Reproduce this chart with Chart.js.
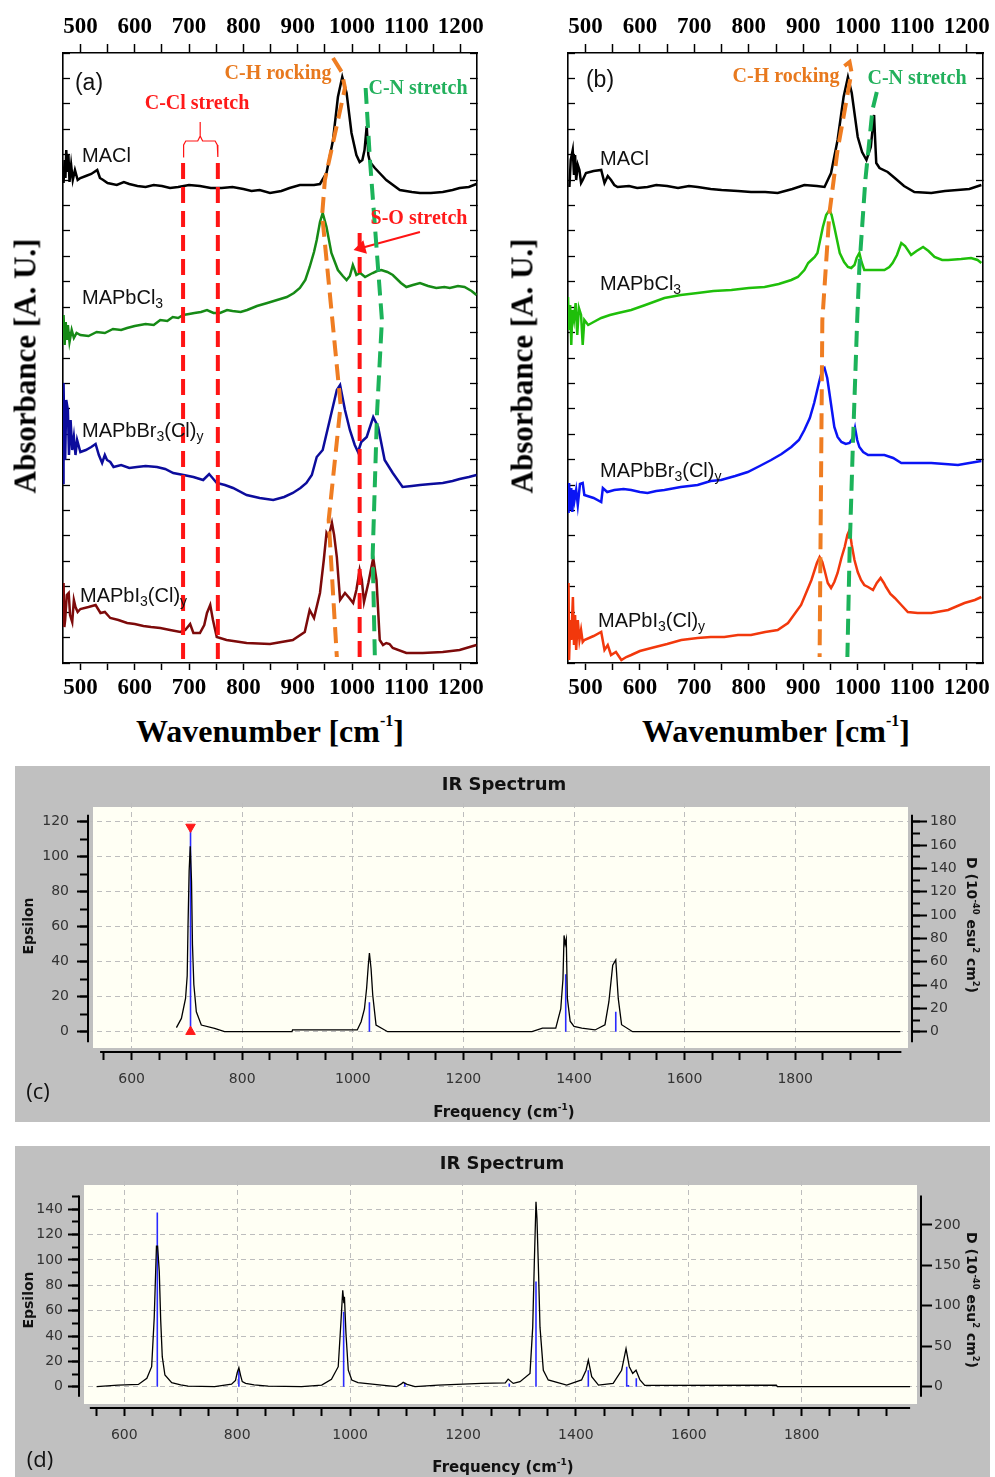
<!DOCTYPE html>
<html><head><meta charset="utf-8">
<script src="https://cdn.jsdelivr.net/npm/chart.js@4.4.1/dist/chart.umd.min.js"></script>
<style>
html,body{margin:0;padding:0;background:#fff}
body{width:995px;height:1477px;position:relative;overflow:hidden}
canvas{position:absolute}
.t{position:absolute;white-space:nowrap;line-height:1;transform:translate(-50%,-50%)}
.lab{font-family:"Liberation Sans",Arial,sans-serif;font-size:20px;color:#111}
.lab sub{font-size:0.7em;vertical-align:-0.3em;line-height:0}
.ann{font-family:"Liberation Serif","Times New Roman",serif;font-weight:bold;font-size:20px}
.ttl{font-family:"Liberation Serif","Times New Roman",serif;font-weight:bold;font-size:32px;color:#000}
.ttl sup{font-size:0.5em;vertical-align:1.0em;line-height:0}
.pl{font-family:"Liberation Sans",Arial,sans-serif;font-size:23px;color:#111}
.ir{font-family:"DejaVu Sans",sans-serif;font-weight:bold;color:#111}
.ir sup{font-size:0.6em;vertical-align:0.7em;line-height:0}
.pc{font-family:"Open Sans","Noto Sans",sans-serif;font-size:22px;color:#111}
</style></head><body>

<canvas id="ca" width="495" height="710" style="left:0;top:0"></canvas>
<canvas id="cb" width="490" height="710" style="left:505px;top:0"></canvas>
<canvas id="cc" width="975" height="356" style="left:15px;top:766px;background:#c0c0c0"></canvas>
<canvas id="cd" width="975" height="331" style="left:15px;top:1146px;background:#c0c0c0"></canvas>

<!-- panel (a) texts -->
<div class="t pl" style="left:89px;top:82px">(a)</div>
<div class="t lab" style="left:82px;top:155px;transform:translateY(-50%)">MACl</div>
<div class="t lab" style="left:82px;top:297px;transform:translateY(-50%)">MAPbCl<sub>3</sub></div>
<div class="t lab" style="left:82px;top:430px;transform:translateY(-50%)">MAPbBr<sub>3</sub>(Cl)<sub>y</sub></div>
<div class="t lab" style="left:80px;top:595px;transform:translateY(-50%)">MAPbI<sub>3</sub>(Cl)<sub>y</sub></div>
<div class="t ann" style="left:278px;top:72px;color:#e8791e">C-H rocking</div>
<div class="t ann" style="left:418px;top:87px;color:#22b05c">C-N stretch</div>
<div class="t ann" style="left:197px;top:102px;color:#ff1a1a">C-Cl stretch</div>
<div class="t ann" style="left:419px;top:217px;color:#ff1a1a">S-O stretch</div>
<div class="t ttl" style="left:25px;top:366px;font-size:31px;transform:translate(-50%,-50%) rotate(-90deg)">Absorbance [A. U.]</div>
<div class="t ttl" style="left:270px;top:731px">Wavenumber [cm<sup>-1</sup>]</div>

<!-- panel (b) texts -->
<div class="t pl" style="left:600px;top:79px">(b)</div>
<div class="t lab" style="left:600px;top:158px;transform:translateY(-50%)">MACl</div>
<div class="t lab" style="left:600px;top:283px;transform:translateY(-50%)">MAPbCl<sub>3</sub></div>
<div class="t lab" style="left:600px;top:470px;transform:translateY(-50%)">MAPbBr<sub>3</sub>(Cl)<sub>y</sub></div>
<div class="t lab" style="left:598px;top:620px;transform:translateY(-50%)">MAPbI<sub>3</sub>(Cl)<sub>y</sub></div>
<div class="t ann" style="left:786px;top:75px;color:#e8791e">C-H rocking</div>
<div class="t ann" style="left:917px;top:77px;color:#22b05c">C-N stretch</div>
<div class="t ttl" style="left:522px;top:366px;font-size:31px;transform:translate(-50%,-50%) rotate(-90deg)">Absorbance [A. U.]</div>
<div class="t ttl" style="left:776px;top:731px">Wavenumber [cm<sup>-1</sup>]</div>

<!-- panel (c) texts -->
<div class="t ir" style="left:504px;top:784px;font-size:18px">IR Spectrum</div>
<div class="t ir" style="left:28px;top:926px;font-size:14px;transform:translate(-50%,-50%) rotate(-90deg)">Epsilon</div>
<div class="t ir" style="left:972px;top:925px;font-size:14px;transform:translate(-50%,-50%) rotate(90deg)">D (10<sup>-40</sup> esu<sup>2</sup> cm<sup>2</sup>)</div>
<div class="t ir" style="left:504px;top:1112px;font-size:15px">Frequency (cm<sup>-1</sup>)</div>
<div class="t pc" style="left:38px;top:1090px">(c)</div>

<!-- panel (d) texts -->
<div class="t ir" style="left:502px;top:1163px;font-size:18px">IR Spectrum</div>
<div class="t ir" style="left:28px;top:1300px;font-size:14px;transform:translate(-50%,-50%) rotate(-90deg)">Epsilon</div>
<div class="t ir" style="left:972px;top:1300px;font-size:14px;transform:translate(-50%,-50%) rotate(90deg)">D (10<sup>-40</sup> esu<sup>2</sup> cm<sup>2</sup>)</div>
<div class="t ir" style="left:503px;top:1467px;font-size:15px">Frequency (cm<sup>-1</sup>)</div>
<div class="t pc" style="left:40px;top:1458px">(d)</div>

<script>
// ---------------- DATA ----------------
// tick labels
const abTickLabels = [500, 600, 700, 800, 900, 1000, 1100, 1200];
const irTickLabels = [600, 800, 1000, 1200, 1400, 1600, 1800];

// Panel (a): wavenumber (cm-1) and offset absorbance (a.u.)
const aMAClWn = [469,471,472.5,474,476,478,480,483,486,490,495,500,510,520,531,536,542,550,567,580,590,605,620,635,650,665,680,700,720,740,760,780,800,815,830,849,870,885,904,930,941,953,965,974,982,990,999,1008,1014,1019,1023,1027,1030,1033,1042,1063,1088,1110,1125,1145,1167,1185,1198,1215,1229];
const aMAClAbs = [480,503,485,513,491,508,481,498,483,493,483,485,487,489,493,485,483,480,478,481,479,477,476,478,477,475,476,478,477,475,475,476,474,472,473,470,472,475,478,478,479,490,523,566,586,570,530,508,501,503,513,537,508,501,495,483,473,471,470,470,471,473,475,476,479];

const aCl3Wn = [469,471,473,475,477,480,484,488,493,500,515,530,545,560,575,586,600,620,635,647,660,670,680,689,700,710,722,733,745,757,770,780,795,807,825,844,862,880,893,904,914,922,930,935,941,946,953,962,974,983,990,996,1001.5,1005,1008,1015,1024,1031,1038,1046,1054,1065,1075,1090,1100,1112,1125,1140,1155,1170,1180,1195,1207,1220,1229];
const aCl3Abs = [348,318,341,323,338,321,333,325,330,328,327,331,330,334,333,335,337,339,338,343,342,346,345,348,349,350,351,353,350,350,353,352,351,353,357,360,363,366,370,375,383,396,411,423,441,450,436,410,393,387,383,387,398,393,388,390,386,388,390,392,393,391,388,380,376,378,380,377,375,376,375,377,376,372,368];

const aBr3Wn = [468,469,470.5,472,474,477,479,482,485,488,491,494,500,510,520,528,534,540,545,549,555,561,575,590,604,620,641,656,671,690,708,726,737,751,766,781,806,830,855,875,891,905,916,926,935,946,959,972,978,987,996,1005,1011,1017,1027,1039,1048,1060,1075,1093,1110,1125,1145,1167,1185,1198,1215,1229];
const aBr3Abs = [180,280,223,203,263,253,208,243,213,226,208,223,211,213,216,219,208,200,208,203,201,196,198,195,196,197,196,194,190,188,186,183,189,180,178,175,168,165,163,166,170,175,180,188,206,213,243,273,278,253,233,218,211,221,226,246,236,203,190,176,177,178,179,180,182,184,186,188];

const aI3Wn = [469,470.5,472,475,478.5,481,485,488,491,495,500,515,528,537,545,555,570,586,600,616,630,647,665,684,693,702,708,720,728,733,739,744,751,769,806,849,891,913,922,930,941,948,953,957,963,967,972,978,987,995,1002,1008,1014,1018,1022,1030,1039,1045,1051,1057,1063,1069,1075,1100,1130,1167,1198,1229];
const aI3Abs = [80,36,43,68,70,48,41,63,56,51,54,56,58,50,51,45,43,40,39,37,36,35,33,31,33,39,30,30,38,50,58,43,26,23,20,19,23,31,53,45,70,103,130,126,140,128,106,63,70,65,60,73,93,83,61,80,105,83,23,18,20,19,15,10,10,11,13,18];

// Panel (a) guide lines (wavenumber, a.u.)
const aCClLeftWn = [689, 689];   const aCClLeftAbs = [500, 3];
const aCClRightWn = [753, 753];  const aCClRightAbs = [500, 3];
const aSOWn = [1014, 1014];      const aSOAbs = [430, 3];
const aCHWn = [965, 981, 987, 950, 945, 979, 957, 972];
const aCHAbs = [605, 591, 575, 483, 448, 258, 143, 6];
const aCNWn = [1025, 1033, 1055, 1046, 1038, 1042];
const aCNAbs = [575, 503, 343, 250, 108, 6];
const aBraceWn = [689, 690, 694, 716, 720.5, 720.5, 720.5, 725, 748, 752, 753];
const aBraceAbs = [506, 518, 522, 522, 527, 541, 527, 522, 522, 518, 506];
const aArrowWn = [1125, 1017];
const aArrowAbs = [431, 415];

// Panel (b)
const bMAClWn = [470.6,473,476.7,479,481,483,486,489,492,495,501,515,529,535,541,547,553,559,580,595,614,630,650,670,690,706,730,750,780,804,830,853,880,902,925,939,951,963,974,982,989,1000,1008,1016,1024,1028,1030,1032,1034,1040,1055,1068,1085,1104,1135,1160,1183,1205,1227];
const bMAClAbs = [476,503,513,488,508,483,498,493,480,483,490,492,493,480,487,483,478,476,477,475,476,478,477,475,477,476,474,473,472,471,471,470,474,478,477,476,490,523,566,586,570,526,511,503,516,538,548,523,500,495,491,485,477,471,470,472,473,474,478];

const bCl3Wn = [468,470,472,474,476,479,482,485,488,492,495,498,505,515,529,545,560,584,610,645,675,706,735,768,800,829,855,878,890,902,909,915,921,926,936,942,948,952,957,962,967,975,982,988,994,998,1003,1007,1012,1030,1049,1058,1064,1072,1080,1087,1098,1108,1120,1130,1141,1155,1166,1190,1208,1220,1227];
const bCl3Abs = [366,333,358,318,353,343,360,328,355,348,318,343,338,341,345,348,350,353,358,365,368,370,372,373,375,376,379,383,386,393,400,403,406,410,436,448,453,448,436,423,410,401,396,395,398,405,410,401,393,393,393,396,400,408,420,417,408,412,416,412,406,403,403,404,405,403,400];

const bBr3Wn = [469,470,472,474,476,478,480,483,486,490,495,498,515,529,532,540,553,570,584,600,614,630,645,675,706,730,749,775,798,820,841,860,878,892,902,912,920,930,935,939,944,948,957,963,970,978,985,991,995,999,1003,1010,1019,1035,1049,1065,1080,1100,1135,1160,1184,1205,1227];
const bBr3Abs = [150,180,153,175,151,173,163,173,158,179,180,168,165,161,175,171,173,174,173,171,170,172,173,176,178,182,183,187,191,197,203,209,216,223,233,245,260,283,293,295,285,270,236,226,221,219,220,225,235,223,216,211,208,208,208,205,200,200,200,199,198,200,202];

const bI3Wn = [469,470,472,474,477,479,481,483,486,489,492,495,498,515,529,535,541,547,556,566,575,584,600,621,650,676,706,730,755,780,804,830,853,872,896,915,925,930,935,939,945,951,957,963,970,976,981,985,989,994,1000,1006,1012,1019,1028,1035,1042,1048,1052,1060,1068,1080,1092,1110,1135,1166,1196,1215,1227];
const bI3Abs = [80,3,43,23,66,18,48,13,43,23,33,21,23,27,31,13,18,8,11,3,6,8,12,15,19,23,25,26,26,28,28,31,33,40,58,83,100,106,101,93,80,75,81,90,105,116,128,133,118,103,91,83,78,76,73,80,85,80,76,69,65,58,51,50,50,53,60,63,66];

const bCHWn = [975.5, 985, 988.6, 963, 948, 935, 930];
const bCHAbs = [597, 601, 591, 513, 450, 343, 6];
const bCNWn = [1035, 1027, 1014, 1003, 999, 990.6, 985, 981];
const bCNAbs = [571, 553, 483, 396, 343, 210, 110, 6];

// Panel (c): computed IR spectrum
const cFreq = [681,690,697.5,700.5,702,704,706,708.3,710,712.5,717,726,750,768,890,891,1008,1015,1021,1025,1028,1030,1033,1036,1042,1063,1324,1343,1367,1376,1380,1382,1384,1386,1388,1393,1400,1414,1438,1456,1463,1470,1475.5,1480,1486,1506,1990];
const cEps = [2.3,7.6,19,32,61,92,106,86,50,27,11.4,3.8,1.9,0,0,1,1,5.7,13,25,38,45,36,21,3.8,0,0,2,2,13,30,55,50,53,19,6,3,2,1,4,17,38,41,19,4,0,0];
const cStickFreq = [706.5, 1030, 1385, 1475.5];
const cStickEps = [117, 16.8, 32.8, 11.4];
const cMarkFreq = [706.5, 706.5];
const cMarkEps = [117, 0];

// Panel (d)
const dFreq = [551,589,625,640,648.5,653,655.6,657,659,662,664.5,667.3,672,684,700,713,760,790,797,800,803,806,809,815,830,855,914,949.7,967,979,984,987,989,990,992.7,996.8,1003,1014,1056,1082,1090,1094,1101,1115,1156,1233,1275,1280,1289,1301,1318.7,1323.5,1326.3,1329.3,1331,1333.4,1336.4,1342.3,1351,1383.7,1410,1418,1422,1428,1440,1466,1481,1488.8,1494.6,1500.6,1506.5,1513.5,1522,1755,1757,1992];
const dEps = [0,1.3,1.8,6.6,15.8,54,90.8,111,111,90.8,52.6,23.7,9.2,3.2,1.5,0.5,0,2,5,11,15,9,4,2.6,1.5,0.5,0,1.3,5.8,15.8,52.6,76,66,71,42,13,5.3,3.2,1.3,0,2,3.4,1.8,0,1.3,2.6,3,6,2.6,4,10.5,47,97,146,133,97,47,13,5.3,1.3,5.3,13,21,7.9,1.3,2.6,13,30,15.8,10.5,13,5.3,1,1.3,0,0];
const dStickFreq = [658.5, 803, 988.6, 1097, 1282, 1329.3, 1422, 1490, 1493, 1507];
const dStickEps = [137.4, 13, 59.2, 3.2, 2.6, 83, 13, 15.8, 1.3, 6.6];

// ---------------- HELPERS ----------------
const pts = (xs, ys) => xs.map((x, i) => ({x: x, y: ys[i]}));
const sticks = (xs, hs) => { const o = []; xs.forEach((x, i) => { o.push({x: x, y: 0}, {x: x, y: hs[i]}, {x: x, y: null}); }); return o; };
const line = (data, color, w) => ({data, borderColor: color, backgroundColor: color, borderWidth: w || 2.5, showLine: true, pointRadius: 0, tension: 0, fill: false, spanGaps: false});
const dash = (data, color) => Object.assign(line(data, color, 4), {borderDash: [16, 8], borderCapStyle: 'butt'});

const serifTick = {family: 'Liberation Serif', weight: 'bold', size: 23};

function abScales(rightW) {
  const xCommon = (pos, tl, pad, h) => ({
    type: 'linear', position: pos, min: 468, max: 1230,
    ticks: {stepSize: 50, includeBounds: false, autoSkip: false, maxRotation: 0, minRotation: 0, padding: pad, color: '#000', font: serifTick,
      callback: v => abTickLabels.includes(v) ? String(v) : ''},
    grid: {drawOnChartArea: false, tickLength: tl, tickWidth: 1.5, tickColor: '#000'},
    border: {display: true, color: '#000', width: 1.6},
    afterFit: s => { s.height = h; }
  });
  const yCommon = (pos, w) => ({
    type: 'linear', position: pos, min: 0, max: 610,
    ticks: {count: 25, autoSkip: false, callback: () => ''},
    grid: {drawOnChartArea: false, tickLength: -7, tickWidth: 1.3, tickColor: '#000'},
    border: {display: true, color: '#000', width: 1.6},
    afterFit: s => { s.width = w; }
  });
  return {
    x: xCommon('bottom', 7, 4, 47),
    x2: xCommon('top', 9, 3, 53),
    y: yCommon('left', 63),
    y2: yCommon('right', rightW)
  };
}

const baseOpts = (scales, pad) => ({
  responsive: false, animation: false, devicePixelRatio: 1,
  layout: {padding: pad || 0},
  plugins: {legend: {display: false}, tooltip: {enabled: false}},
  events: [],
  scales
});

// ---------------- PANEL (a) ----------------
const red = '#ff1414', orange = '#ef7d22', greenD = '#1cb35a';
const arrowDs = Object.assign(line(pts(aArrowWn, aArrowAbs), red, 2), {
  pointRadius: [0, 6], pointStyle: 'triangle', pointRotation: [0, 255], pointBackgroundColor: red, pointBorderColor: red
});
new Chart(document.getElementById('ca'), {
  type: 'scatter',
  data: {datasets: [
    dash(pts(aCHWn, aCHAbs), orange),
    dash(pts(aCNWn, aCNAbs), greenD),
    dash(pts(aCClLeftWn, aCClLeftAbs), red),
    dash(pts(aCClRightWn, aCClRightAbs), red),
    dash(pts(aSOWn, aSOAbs), red),
    line(pts(aBraceWn, aBraceAbs), red, 1.2),
    arrowDs,
    line(pts(aMAClWn, aMAClAbs), '#000'),
    line(pts(aCl3Wn, aCl3Abs), '#168a16'),
    line(pts(aBr3Wn, aBr3Abs), '#0c0c9c'),
    line(pts(aI3Wn, aI3Abs), '#7d0a0a')
  ]},
  options: baseOpts(abScales(18))
});

// ---------------- PANEL (b) ----------------
new Chart(document.getElementById('cb'), {
  type: 'scatter',
  data: {datasets: [
    dash(pts(bCHWn, bCHAbs), orange),
    dash(pts(bCNWn, bCNAbs), greenD),
    line(pts(bMAClWn, bMAClAbs), '#000'),
    line(pts(bCl3Wn, bCl3Abs), '#1fbf0a'),
    line(pts(bBr3Wn, bBr3Abs), '#0a14f5'),
    line(pts(bI3Wn, bI3Abs), '#f2380c')
  ]},
  options: baseOpts(abScales(12))
});

// ---------------- PANELS (c), (d) ----------------
const irFont = {family: 'DejaVu Sans', size: 14};
const gridGray = '#bdbdbd';
function irPlugin(id, lims) {
  return {
    id: id,
    beforeDraw(chart) {
      const {ctx, chartArea: a} = chart;
      ctx.save();
      ctx.fillStyle = '#fffff4';
      ctx.fillRect(a.left + 5, a.top + 4, a.right - a.left - 9, a.bottom - a.top - 8);
      ctx.restore();
    },
    afterDraw(chart) {
      const {ctx, chartArea: a, scales} = chart;
      const y = scales.y, x = scales.x;
      ctx.save();
      ctx.strokeStyle = '#000'; ctx.lineWidth = 2;
      ctx.beginPath();
      ctx.moveTo(a.left, y.getPixelForValue(lims.yTop)); ctx.lineTo(a.left, y.getPixelForValue(lims.yBot));
      ctx.moveTo(a.right, y.getPixelForValue(lims.yTop)); ctx.lineTo(a.right, y.getPixelForValue(lims.yBot));
      ctx.moveTo(x.getPixelForValue(lims.xL), a.bottom); ctx.lineTo(x.getPixelForValue(lims.xR), a.bottom);
      ctx.stroke();
      ctx.restore();
    }
  };
}
function irScales(cfg) {
  const filt = (lo, hi) => s => { s.ticks = s.ticks.filter(t => t.value >= lo - 1e-6 && t.value <= hi + 1e-6); };
  const sc = {
    x: {type: 'linear', position: 'bottom', min: cfg.xMin, max: cfg.xMax,
      afterBuildTicks: filt(550, 1950),
      ticks: {stepSize: 50, includeBounds: false, autoSkip: false, maxRotation: 0, minRotation: 0, padding: 10.6, color: '#333', font: irFont,
        callback: v => irTickLabels.includes(v) ? String(v) : ''},
      grid: {color: c => (c.tick && irTickLabels.includes(c.tick.value)) ? gridGray : 'rgba(0,0,0,0)', lineWidth: 1,
        tickLength: 8, tickWidth: 2, tickColor: '#000'},
      border: {display: false, dash: [5, 4]},
      afterFit: s => { s.height = cfg.bottomH; }},
    y: {type: 'linear', position: 'left', weight: 1, min: cfg.eMin, max: cfg.eMax,
      afterBuildTicks: filt(0, cfg.eTop),
      ticks: {stepSize: 20, includeBounds: false, autoSkip: false, padding: cfg.lPad, color: '#333', font: irFont},
      grid: {color: gridGray, lineWidth: 1, tickLength: 11, tickWidth: 2, tickColor: '#000'},
      border: {display: false, dash: [5, 4]},
      afterFit: s => { s.width = cfg.leftW; }},
    yMinor: {type: 'linear', position: 'left', weight: 0, min: cfg.eMin, max: cfg.eMax,
      afterBuildTicks: filt(0, cfg.eMinorTop),
      ticks: {stepSize: 10, includeBounds: false, autoSkip: false, callback: () => ''},
      grid: {drawOnChartArea: false, tickLength: cfg.minorLen, tickWidth: 2, tickColor: '#000'},
      border: {display: false},
      afterFit: s => { s.width = 0; }},
    yD: {type: 'linear', position: 'right', weight: 1, min: cfg.dMin, max: cfg.dMax,
      afterBuildTicks: filt(0, cfg.dTop),
      ticks: {stepSize: cfg.dStep, includeBounds: false, autoSkip: false, padding: cfg.rPad, color: '#333', font: irFont},
      grid: {drawOnChartArea: false, tickLength: cfg.dLen, tickWidth: 2, tickColor: '#000'},
      border: {display: false},
      afterFit: s => { s.width = cfg.rightW; }}
  };
  if (cfg.dMinor) {
    sc.yDMinor = {type: 'linear', position: 'right', weight: 0, min: cfg.dMin, max: cfg.dMax,
      afterBuildTicks: filt(0, cfg.dTop),
      ticks: {stepSize: cfg.dMinor, includeBounds: false, autoSkip: false, callback: () => ''},
      grid: {drawOnChartArea: false, tickLength: 8, tickWidth: 2, tickColor: '#000'},
      border: {display: false},
      afterFit: s => { s.width = 0; }};
  }
  return sc;
}

new Chart(document.getElementById('cc'), {
  type: 'scatter',
  data: {datasets: [
    {data: pts(cMarkFreq, cMarkEps), showLine: false, pointStyle: 'triangle', pointRadius: 5.5,
      pointRotation: [180, 0], backgroundColor: '#ff1a1a', borderColor: '#ff1a1a', borderWidth: 1},
    line(pts(cFreq, cEps), '#000', 1.3),
    line(sticks(cStickFreq, cStickEps), '#2a2aff', 1.6)
  ]},
  options: baseOpts(irScales({xMin: 521.1, xMax: 2011.2, bottomH: 70, eMin: -11.6, eMax: 130.69, eTop: 120, eMinorTop: 120,
    leftW: 73, lPad: 8, minorLen: 8, dMin: -17.4, dMax: 196.03, dTop: 180, dStep: 20, dMinor: 10, dLen: 15, rPad: 3, rightW: 78}),
    {top: 37, left: 0, right: 0, bottom: 0}),
  plugins: [irPlugin('irc', {yTop: 124, yBot: -6, xL: 543, xR: 1992})]
});

new Chart(document.getElementById('cd'), {
  type: 'scatter',
  data: {datasets: [
    line(pts(dFreq, dEps), '#000', 1.3),
    line(sticks(dStickFreq, dStickEps), '#2a2aff', 1.6)
  ]},
  options: baseOpts(irScales({xMin: 519.8, xMax: 2011.3, bottomH: 69, eMin: -16.81, eMax: 162.35, eTop: 140, eMinorTop: 150,
    leftW: 64, lPad: 5, minorLen: 7, dMin: -26.35, dMax: 254.4, dTop: 200, dStep: 50, dMinor: 0, dLen: 11, rPad: 2, rightW: 69}),
    {top: 35, left: 0, right: 0, bottom: 0}),
  plugins: [irPlugin('ird', {yTop: 151, yBot: -8, xL: 539, xR: 1992})]
});
</script>
</body></html>
